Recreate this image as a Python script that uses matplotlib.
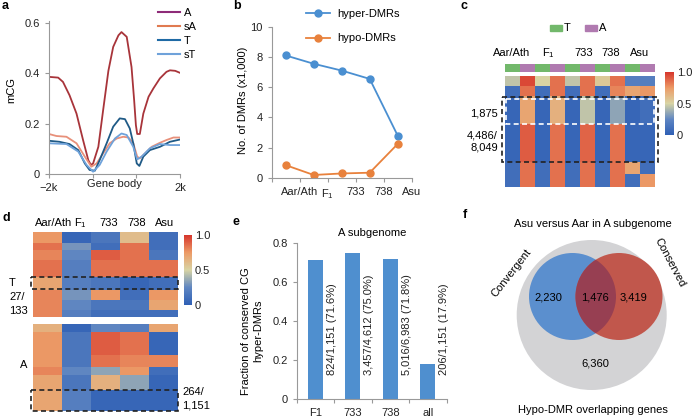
import numpy as np
import matplotlib
matplotlib.use("Agg")
import matplotlib.pyplot as plt
from matplotlib.colors import LinearSegmentedColormap, ListedColormap
from matplotlib.lines import Line2D
from matplotlib.patches import Circle, Rectangle

plt.rcParams['font.family'] = ['Liberation Sans', 'DejaVu Sans']
plt.rcParams['mathtext.fontset'] = 'custom'
plt.rcParams['mathtext.rm'] = 'Liberation Sans'
plt.rcParams['mathtext.default'] = 'regular'
plt.rcParams['font.size'] = 8
plt.rcParams['axes.edgecolor'] = '#999999'
plt.rcParams['xtick.color'] = '#999999'
plt.rcParams['ytick.color'] = '#999999'
plt.rcParams['xtick.labelcolor'] = '#222222'
plt.rcParams['ytick.labelcolor'] = '#222222'
plt.rcParams['xtick.labelsize'] = 8
plt.rcParams['ytick.labelsize'] = 8

# ---- panel a : mCG metaplot (x: 0-1 upstream, 1-2 gene body, 2-3 downstream)
a_x_A = [0.0, 0.21, 0.32, 0.47, 0.63, 0.78, 0.90, 0.96, 1.01, 1.13, 1.24, 1.36, 1.47, 1.59, 1.66, 1.78, 1.89, 1.95, 1.99, 2.02, 2.08, 2.16, 2.28, 2.39, 2.54, 2.69, 2.77, 2.89, 3.0]
a_A = [0.386, 0.383, 0.366, 0.313, 0.24, 0.135, 0.055, 0.036, 0.042, 0.108, 0.254, 0.41, 0.505, 0.551, 0.564, 0.545, 0.425, 0.293, 0.194, 0.159, 0.159, 0.24, 0.307, 0.34, 0.38, 0.406, 0.412, 0.41, 0.402]
a_x_sA = [0.0, 0.17, 0.40, 0.63, 0.82, 0.97, 1.09, 1.24, 1.39, 1.55, 1.70, 1.82, 1.93, 2.02, 2.08, 2.20, 2.35, 2.54, 2.69, 2.85, 3.0]
a_sA = [0.159, 0.151, 0.148, 0.122, 0.069, 0.029, 0.042, 0.082, 0.122, 0.141, 0.148, 0.145, 0.122, 0.069, 0.062, 0.082, 0.108, 0.124, 0.135, 0.145, 0.145]
a_x_T = [0.0, 0.24, 0.47, 0.67, 0.82, 0.93, 1.05, 1.16, 1.32, 1.47, 1.62, 1.74, 1.85, 1.93, 2.01, 2.07, 2.16, 2.31, 2.54, 2.77, 3.0]
a_T = [0.132, 0.128, 0.119, 0.095, 0.042, 0.016, 0.013, 0.055, 0.122, 0.188, 0.221, 0.218, 0.181, 0.122, 0.042, 0.032, 0.069, 0.095, 0.108, 0.128, 0.137]
a_x_sT = [0.0, 0.40, 0.67, 0.86, 1.01, 1.16, 1.32, 1.51, 1.66, 1.78, 1.93, 2.02, 2.12, 2.31, 2.54, 2.77, 3.0]
a_sT = [0.122, 0.119, 0.089, 0.036, 0.009, 0.036, 0.089, 0.141, 0.161, 0.155, 0.108, 0.058, 0.069, 0.102, 0.119, 0.115, 0.115]

# ---- panel b : number of DMRs
b_groups = ['Aar/Ath', 'F$_1$', '733', '738', 'Asu']
b_hyper = [8.1, 7.55, 7.1, 6.55, 2.8]
b_hypo = [0.85, 0.2, 0.3, 0.35, 2.25]

# ---- panel c : heatmap blocks (rows = block heights, cols = T/A per sample)
c_samples = ['Aar/Ath', 'F$_1$', '733', '738', 'Asu']
c_subgenome = [0, 1] * 5
c_rows = [34, 28, 82, 113, 35, 40]
c_vals = [
    [0.45, 0.95, 0.5, 0.85, 0.45, 0.85, 0.55, 0.85, 0.2, 0.2],
    [0.1, 0.85, 0.1, 0.85, 0.1, 0.85, 0.1, 0.8, 0.7, 0.75],
    [0.05, 0.7, 0.05, 0.65, 0.05, 0.45, 0.05, 0.35, 0.05, 0.1],
    [0.05, 0.9, 0.05, 0.85, 0.05, 0.88, 0.05, 0.85, 0.05, 0.05],
    [0.1, 0.85, 0.1, 0.85, 0.1, 0.85, 0.1, 0.85, 0.7, 0.1],
    [0.1, 0.85, 0.1, 0.85, 0.1, 0.85, 0.1, 0.85, 0.1, 0.75],
]

# ---- panel d : heatmap blocks, T (top) and A (bottom)
d_samples = ['Aar/Ath', 'F$_1$', '733', '738', 'Asu']
d_T_rows = [33, 20, 30, 52, 38, 30, 30, 22]
d_T_vals = [
    [0.75, 0.05, 0.15, 0.6, 0.1],
    [0.85, 0.3, 0.1, 0.85, 0.1],
    [0.8, 0.25, 0.9, 0.85, 0.15],
    [0.85, 0.2, 0.85, 0.85, 0.85],
    [0.7, 0.2, 0.15, 0.05, 0.1],
    [0.8, 0.3, 0.75, 0.1, 0.75],
    [0.8, 0.25, 0.15, 0.15, 0.7],
    [0.8, 0.2, 0.1, 0.1, 0.1],
]
d_A_rows = [23, 70, 35, 25, 45, 62]
d_A_vals = [
    [0.65, 0.05, 0.25, 0.2, 0.7],
    [0.75, 0.15, 0.9, 0.85, 0.05],
    [0.75, 0.15, 0.85, 0.8, 0.8],
    [0.8, 0.25, 0.35, 0.75, 0.1],
    [0.7, 0.15, 0.65, 0.35, 0.05],
    [0.7, 0.2, 0.05, 0.05, 0.05],
]

# ---- panel e : conserved hyper-DMRs
e_groups = ['F1', '733', '738', 'all']
e_frac = [0.716, 0.75, 0.718, 0.179]
e_labels = ['824/1,151 (71.6%)', '3,457/4,612 (75.0%)', '5,016/6,983 (71.8%)', '206/1,151 (17.9%)']

# ---- panel f : venn counts
f_counts = ['2,230', '1,476', '3,419', '6,360']

W, H = 694, 418
fig = plt.figure(figsize=(W / 100, H / 100), dpi=100)


def px_axes(x0, y0, x1, y1):
    return fig.add_axes([x0 / W, 1 - y1 / H, (x1 - x0) / W, (y1 - y0) / H])


def clean(ax):
    for s in ['top', 'right']:
        ax.spines[s].set_visible(False)
    ax.tick_params(length=3, width=0.8)


hm_cmap = LinearSegmentedColormap.from_list(
    'meth', ['#2e5fb5', '#5f86c2', '#d8d4a4', '#ec9a66', '#d6352c'])

# ---------------- a
ax = px_axes(49, 21, 180, 174)
ax.plot(a_x_A, a_A, color='#a8343a', lw=1.3)
ax.plot(a_x_sA, a_sA, color='#e8907a', lw=1.3)
ax.plot(a_x_T, a_T, color='#1f5a86', lw=1.3)
ax.plot(a_x_sT, a_sT, color='#6fa2da', lw=1.3)
ax.set_xlim(0, 3)
ax.set_ylim(0, 0.608)
ax.set_yticks([0, 0.2, 0.4, 0.6])
ax.set_yticklabels(['0', '0.2', '0.4', '0.6'])
ax.set_xticks([0, 1, 2, 3])
ax.set_xticklabels(['\u22122k', '', '', '2k'])
ax.set_xticks([1.5], minor=True)
ax.set_xticklabels(['Gene body'], minor=True)
ax.tick_params(axis='x', which='minor', length=0)
clean(ax)
ax.set_ylabel('mCG')
ax.yaxis.set_label_coords(-0.25, 0.55)
handles = [Line2D([], [], color=c, lw=1.5) for c in ['#8e2b78', '#e07a50', '#1f6aa5', '#6fa2da']]
ax.legend(handles, ['A', 'sA', 'T', 'sT'], frameon=False, loc='upper left',
          bbox_to_anchor=(158 / W, 1 - 8 / H), bbox_transform=fig.transFigure,
          handlelength=2.0, handletextpad=0.35, labelspacing=0.35, borderpad=0,
          borderaxespad=0)

# ---------------- b
ax = px_axes(271.7, 26.7, 411.7, 178)
xb = np.arange(len(b_hyper)) + 0.5
ax.plot(xb, b_hyper, '-o', color='#4a8fd1', ms=5, lw=1.3, label='hyper-DMRs')
ax.plot(xb, b_hypo, '-o', color='#e8813c', ms=5, lw=1.3, label='hypo-DMRs')
ax.set_xlim(0, 5)
ax.set_ylim(0, 10)
ax.set_yticks([0, 2, 4, 6, 8, 10])
ax.set_xticks(np.arange(6))
ax.set_xticklabels([''] + b_groups)
clean(ax)
ax.set_ylabel('No. of DMRs (x1,000)')
ax.yaxis.set_label_coords(-0.17, 0.515)
ax.legend(frameon=False, loc='upper left', bbox_to_anchor=(306 / W, 1 - 9 / H),
          bbox_transform=fig.transFigure, handlelength=2.2, handletextpad=0.6,
          labelspacing=1.3, borderpad=0, borderaxespad=0)

# ---------------- c
axc = px_axes(505, 76, 655, 187)
c_mat = np.repeat(np.array(c_vals), c_rows, axis=0)
im = axc.imshow(c_mat, cmap=hm_cmap, vmin=0, vmax=1, aspect='auto', interpolation='nearest')
axc.axis('off')
axbar = px_axes(505, 64, 655, 72)
axbar.imshow([c_subgenome], cmap=ListedColormap(['#72b86b', '#b07ab0']), aspect='auto')
axbar.axis('off')
cax = px_axes(665, 72, 674, 135)
cb = fig.colorbar(im, cax=cax, ticks=[0, 0.5, 1])
cb.ax.set_yticklabels(['0', '0.5', '1.0'])
cb.outline.set_visible(False)
cb.ax.tick_params(length=0, pad=2)

# ---------------- d
for (y0, y1, rows, vals) in [(232, 317, d_T_rows, d_T_vals), (324, 411, d_A_rows, d_A_vals)]:
    axd = px_axes(33, y0, 177, y1)
    imd = axd.imshow(np.repeat(np.array(vals), rows, axis=0), cmap=hm_cmap, vmin=0, vmax=1,
                     aspect='auto', interpolation='nearest')
    axd.axis('off')
cax = px_axes(184, 235, 192, 305)
cb = fig.colorbar(imd, cax=cax, ticks=[0, 0.5, 1])
cb.ax.set_yticklabels(['0', '0.5', '1.0'])
cb.outline.set_visible(False)
cb.ax.tick_params(length=0, pad=2)

# ---------------- e
ax = px_axes(296.7, 243.3, 446.7, 399.3)
xe = np.arange(len(e_frac))
ax.bar(xe, e_frac, width=0.4, color='#4f8fcf')
for i, t in enumerate(e_labels):
    ax.text(i + 0.44, 0.125, t, rotation=90, ha='center', va='bottom', fontsize=8, color='#222222')
ax.set_xlim(-0.5, 3.5)
ax.set_ylim(0, 0.8)
ax.set_yticks([0, 0.2, 0.4, 0.6, 0.8])
ax.set_yticklabels(['0', '0.2', '0.4', '0.6', '0.8'])
ax.set_xticks(np.arange(5) - 0.5)
ax.set_xticklabels([])
ax.set_xticks(xe, minor=True)
ax.set_xticklabels(e_groups, minor=True)
ax.tick_params(axis='x', which='minor', length=0, pad=6)
clean(ax)
ax.set_title('A subgenome', fontsize=8, pad=5)

# ---------------- overlay (letters, boxes, venn, free text)
ov = fig.add_axes([0, 0, 1, 1])
ov.set_xlim(0, W)
ov.set_ylim(H, 0)
ov.axis('off')
for lab, x, y in [('a', 2, 6), ('b', 233, 6), ('c', 461, 6), ('d', 3, 218), ('e', 233, 222), ('f', 463, 215)]:
    ov.text(x, y, lab, fontsize=9, fontweight='bold', ha='left', va='center')

# c annotations
ov.add_patch(Rectangle((502, 97), 156, 65, fill=False, ls=(0, (3, 2)), lw=1.2, ec='#222222'))
ov.add_patch(Rectangle((506, 98.5), 148, 25.5, fill=False, ls=(0, (3, 2)), lw=1.2, ec='white'))
ov.text(498, 113, '1,875', ha='right', va='center')
ov.text(498, 135, '4,486/', ha='right', va='center')
ov.text(498, 147, '8,049', ha='right', va='center')
for s, x in zip(c_samples, [512, 548, 584, 611, 640]):
    ov.text(x, 53, s, ha='center', va='center')
ov.add_patch(Rectangle((550, 25), 12, 6, color='#72b86b'))
ov.text(564, 28, 'T', va='center')
ov.add_patch(Rectangle((585, 25), 12, 6, color='#b07ab0'))
ov.text(599, 28, 'A', va='center')

# d annotations
for s, x in zip(d_samples, [53.5, 80.5, 108.3, 136.7, 165]):
    ov.text(x, 223, s, ha='center', va='center')
ov.add_patch(Rectangle((31, 277), 147, 12, fill=False, ls=(0, (3, 2)), lw=1.2, ec='#222222'))
ov.add_patch(Rectangle((31, 390), 147, 21, fill=False, ls=(0, (3, 2)), lw=1.2, ec='#222222'))
ov.text(9, 283, 'T', va='center')
ov.text(9, 297, '27/', va='center')
ov.text(9, 311, '133', va='center')
ov.text(20, 365, 'A', va='center')
ov.text(182, 392, '264/', va='center')
ov.text(182, 405, '1,151', va='center')

# e y label
ov.text(252, 331, 'Fraction of conserved CG\nhyper-DMRs', rotation=90, ha='center', va='center',
        multialignment='center')

# f venn
ov.add_patch(Circle((591.7, 315), 75, color='#d3d3d5', lw=0))
blue = Circle((572.5, 296.5), 43.5, color='#5b8fce', lw=0)
red = Circle((619, 296.5), 43.5, color='#c1574c', lw=0)
ov.add_patch(blue)
ov.add_patch(red)
both = Circle((619, 296.5), 43.5, color='#973f52', lw=0)
ov.add_patch(both)
both.set_clip_path(blue)
for t, x, y in zip(f_counts, [548, 595, 633, 595], [297, 297, 297, 363]):
    ov.text(x, y, t, ha='center', va='center')
ov.text(593, 224, 'Asu versus Aar in A subgenome', ha='center', va='center')
ov.text(593, 410, 'Hypo-DMR overlapping genes', ha='center', va='center')
ov.text(511, 273, 'Convergent', rotation=52, ha='center', va='center')
ov.text(670, 263, 'Conserved', rotation=-62, ha='center', va='center')

fig.savefig('out.png', dpi=100)
